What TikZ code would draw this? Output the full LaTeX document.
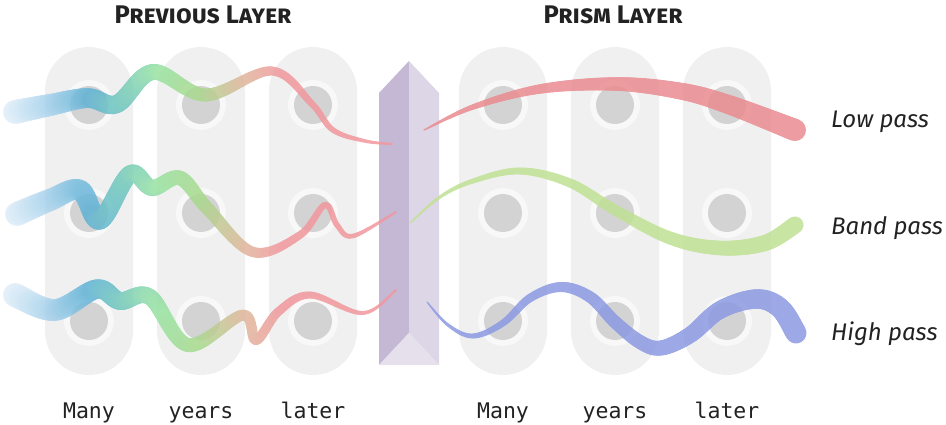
\documentclass[tikz,border=0pt]{standalone}
\usepackage{fontspec}
\setmainfont{Fira Sans}
\setmonofont{DejaVu Sans Mono}

\definecolor{pillgray}{HTML}{F0F0F0}
\definecolor{ringgray}{HTML}{F8F8F8}
\definecolor{dotgray}{HTML}{D3D3D3}
\definecolor{prismleft}{HTML}{C4B8D4}
\definecolor{prismright}{HTML}{DCD6E6}
\definecolor{prismbase}{HTML}{E5E0EC}
\definecolor{inkgray}{HTML}{222222}
% gradient stops of the previous layer
\definecolor{pv1}{HTML}{E2EFF9}
\definecolor{pv2}{HTML}{A0CEEA}
\definecolor{pv3}{HTML}{5EB2D6}
\definecolor{pv4}{HTML}{70C7BE}
\definecolor{pv5}{HTML}{98E2A0}
\definecolor{pv6}{HTML}{A8D98C}
\definecolor{pv7}{HTML}{DDB89A}
\definecolor{pv8}{HTML}{F1979C}
% prism outputs
\definecolor{lowc}{HTML}{EA8C90}
\definecolor{bandc}{HTML}{C0E194}
\definecolor{highc}{HTML}{8C9AE2}

\newcommand\mixcol[5]{%
  \pgfmathsetmacro\mixp{max(0,min(100,100*(#1-#2)/(#3-#2)))}%
  \colorlet{dotc}{#5!\mixp!#4}}

\newcommand\prevcol[1]{%
  \ifdim#1pt<60pt \mixcol{#1}{15}{60}{pv1}{pv2}\else
  \ifdim#1pt<95pt \mixcol{#1}{60}{95}{pv2}{pv3}\else
  \ifdim#1pt<125pt \mixcol{#1}{95}{125}{pv3}{pv4}\else
  \ifdim#1pt<165pt \mixcol{#1}{125}{165}{pv4}{pv5}\else
  \ifdim#1pt<205pt \mixcol{#1}{165}{205}{pv5}{pv6}\else
  \ifdim#1pt<245pt \mixcol{#1}{205}{245}{pv6}{pv7}\else
  \mixcol{#1}{245}{285}{pv7}{pv8}\fi\fi\fi\fi\fi\fi}
\newcommand\lowcol[1]{\colorlet{dotc}{lowc}}
\newcommand\bandcol[1]{\colorlet{dotc}{bandc}}
\newcommand\highcol[1]{\colorlet{dotc}{highc}}

% tapered ribbon along a Catmull-Rom curve:
% start width, end width, power, colour macro, list of x/y points
\newcommand\ribbon[5]{%
  \foreach [count=\n] \a/\b in {#5} {%
    \expandafter\xdef\csname rbx\n\endcsname{\a}%
    \expandafter\xdef\csname rby\n\endcsname{\b}%
    \xdef\rbn{\n}}%
  \expandafter\xdef\csname rbx0\endcsname{\csname rbx1\endcsname}%
  \expandafter\xdef\csname rby0\endcsname{\csname rby1\endcsname}%
  \pgfmathtruncatemacro\rbl{\rbn+1}%
  \expandafter\xdef\csname rbx\rbl\endcsname{\csname rbx\rbn\endcsname}%
  \expandafter\xdef\csname rby\rbl\endcsname{\csname rby\rbn\endcsname}%
  \xdef\rbxs{\csname rbx1\endcsname}%
  \xdef\rbxe{\csname rbx\rbn\endcsname}%
  \xdef\rbpx{\rbxs}\xdef\rbpy{\csname rby1\endcsname}%
  \pgfmathtruncatemacro\rbm{\rbn-1}%
  \foreach \i in {1,...,\rbm} {%
    \pgfmathtruncatemacro\rbia{\i-1}%
    \pgfmathtruncatemacro\rbib{\i+1}%
    \pgfmathtruncatemacro\rbic{\i+2}%
    \edef\rbxz{\csname rbx\rbia\endcsname}\edef\rbyz{\csname rby\rbia\endcsname}%
    \edef\rbxa{\csname rbx\i\endcsname}\edef\rbya{\csname rby\i\endcsname}%
    \edef\rbxb{\csname rbx\rbib\endcsname}\edef\rbyb{\csname rby\rbib\endcsname}%
    \edef\rbxc{\csname rbx\rbic\endcsname}\edef\rbyc{\csname rby\rbic\endcsname}%
    \pgfmathsetmacro\rbmxa{0.5*(\rbxb-\rbxz)}\pgfmathsetmacro\rbmya{0.5*(\rbyb-\rbyz)}%
    \pgfmathsetmacro\rbmxb{0.5*(\rbxc-\rbxa)}\pgfmathsetmacro\rbmyb{0.5*(\rbyc-\rbya)}%
    \pgfmathtruncatemacro\rbns{max(2,ceil(veclen(\rbxb-\rbxa,\rbyb-\rbya)/2.5))}%
    \foreach \k in {1,...,\rbns} {%
      \pgfmathsetmacro\rbt{\k/\rbns}%
      \pgfmathsetmacro\rbtq{\rbt*\rbt}%
      \pgfmathsetmacro\rbtc{\rbtq*\rbt}%
      \pgfmathsetmacro\rbhA{2*\rbtc-3*\rbtq+1}%
      \pgfmathsetmacro\rbhB{\rbtc-2*\rbtq+\rbt}%
      \pgfmathsetmacro\rbhC{3*\rbtq-2*\rbtc}%
      \pgfmathsetmacro\rbhD{\rbtc-\rbtq}%
      \pgfmathsetmacro\px{\rbhA*\rbxa+\rbhB*\rbmxa+\rbhC*\rbxb+\rbhD*\rbmxb}%
      \pgfmathsetmacro\py{\rbhA*\rbya+\rbhB*\rbmya+\rbhC*\rbyb+\rbhD*\rbmyb}%
      \pgfmathsetmacro\rbf{max(0.0001,min(1,(\px-\rbxs)/(\rbxe-\rbxs)))}%
      \pgfmathsetmacro\rbw{#1+(#2-#1)*\rbf^#3}%
      #4{\px}%
      \draw[dotc, line width=\rbw pt, line cap=round] (\rbpx,\rbpy) -- (\px,\py);
      \xdef\rbpx{\px}\xdef\rbpy{\py}%
    }%
  }}

\begin{document}
\begin{tikzpicture}[
		x=1pt, y=-1pt,
		pill/.style={fill=pillgray, rounded corners=44pt},
		title/.style={font=\fontsize{25.5}{27}\selectfont\bfseries\scshape, text=inkgray, inner sep=0pt},
		word/.style={font=\ttfamily\fontsize{21.5}{22}\selectfont, text=inkgray, inner sep=0pt},
		band/.style={font=\itshape\fontsize{24}{26}\selectfont, text=inkgray, inner sep=0pt, anchor=base west},
		signal/.style={transparency group, opacity=.85}
		]
		\useasboundingbox (0,0) rectangle (946,425);
		
		% ---- Columns ----
		\foreach \cx in {89,201,313,503,615,727} {
			\fill[pill] (\cx-44,47) rectangle (\cx+44,375);
			\foreach \cy in {105,213,321} {
				\fill[ringgray] (\cx,\cy) circle[radius=25pt];
				\fill[dotgray] (\cx,\cy) circle[radius=19pt];
			}
		}
		
		% ---- Prism ----
		\fill[prismleft] (379,93) -- (409,61) -- (409,333) -- (379,365) -- cycle;
		\fill[prismright] (409,61) -- (439,93) -- (439,365) -- (409,333) -- cycle;
		\fill[prismbase] (379,365) -- (409,333) -- (439,365) -- cycle;
		
		% ---- Previous layer signals ----
		\begin{scope}[signal]
			\ribbon{24}{2}{1}{\prevcol}{15/112, 50/105, 88/98, 117/104, 153/72, 206/95,
				272/71, 312/104, 333/130, 365/141, 392/144}
		\end{scope}
		\begin{scope}[signal]
			\ribbon{24}{2}{1}{\prevcol}{17/214, 50/200, 80/190, 100/220, 130/174, 152/188,
				180/178, 207/208, 253/252, 300/235, 325/205, 337/225, 353/236, 396/212}
		\end{scope}
		\begin{scope}[signal]
			\ribbon{24}{2}{1}{\prevcol}{15/295, 55/310, 97/289, 120/301, 150/297, 188/345,
				243/315, 256/340, 278/312, 310/295, 363/313, 396/290}
		\end{scope}
		
		% ---- Prism layer signals ----
		\begin{scope}[signal]
			\ribbon{1}{22}{.8}{\lowcol}{424/130, 473/107, 540/89, 616/84, 680/91, 727/104, 795/130}
		\end{scope}
		\begin{scope}[signal]
			\ribbon{1}{17}{.8}{\bandcol}{410/223, 440/197, 473/181, 520/171, 570/183, 615/210,
				670/238, 720/248, 765/243, 795/225}
		\end{scope}
		\begin{scope}[signal]
			\ribbon{1}{21}{.8}{\highcol}{427/302, 448/325, 473/336, 503/323, 530/298, 561/287,
				590/297, 615/322, 640/342, 661/348, 690/335, 720/310, 756/299, 780/308, 796/333}
		\end{scope}
		
		% ---- Titles ----
		\node[title, anchor=base] (prevtitle) at (203,24) {Previous Layer};
		\node[title, anchor=base] (prismtitle) at (613,24) {Prism Layer};
		
		% ---- Words under the columns ----
		\node[word, anchor=base] (many1)  at (89,418)  {Many};
		\node[word, anchor=base] (years1) at (201,418) {years};
		\node[word, anchor=base] (later1) at (313,418) {later};
		\node[word, anchor=base] (many2)  at (503,418) {Many};
		\node[word, anchor=base] (years2) at (615,418) {years};
		\node[word, anchor=base] (later2) at (727,418) {later};
		
		% ---- Filter labels ----
		\node[band] (lowpass)  at (831,128) {Low pass};
		\node[band] (bandpass) at (831,234) {Band pass};
		\node[band] (highpass) at (831,340) {High pass};
	\end{tikzpicture}
\end{document}
